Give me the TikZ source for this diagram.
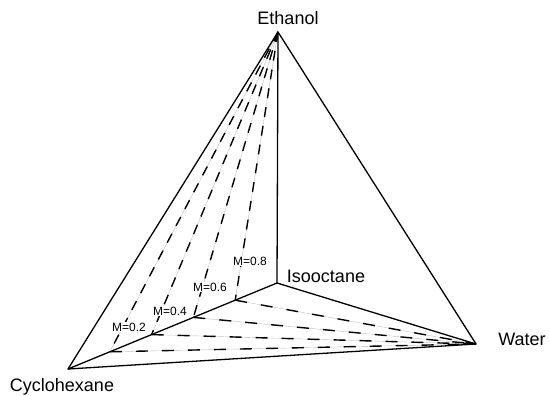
\documentclass[tikz,border=0pt]{standalone}
\usepackage{fontspec}
\setmainfont{Liberation Sans}
\usetikzlibrary{calc}
\begin{document}
\begin{tikzpicture}[x=1pt,y=-1pt,
  edge/.style={line width=1.3pt, line join=round},
  guide/.style={line width=0.4pt, black!25},
  tiee/.style={line width=1.4pt, dash pattern=on 10pt off 9pt},
  tiew/.style={line width=1.4pt, dash pattern=on 12pt off 14pt},
  lbl/.style={font=\fontsize{18}{20}\selectfont, anchor=base, inner sep=0pt},
  mlbl/.style={font=\fontsize{12}{14}\selectfont, anchor=base, fill=white, inner sep=1pt}]
\useasboundingbox (0,0) rectangle (549,396);
\coordinate (E) at (278,32);
\coordinate (C) at (68,369);
\coordinate (I) at (277,283);
\coordinate (W) at (476,344);
\foreach \t/\n in {0.2/a,0.4/b,0.6/c,0.8/d}{
  \coordinate (P\n) at ($(C)!\t!(I)$);
}
% faint guide lines
\foreach \n in {a,b,c,d}{
  \draw[guide] (E) -- (P\n);
  \draw[guide] (W) -- (P\n);
}
% dashed tie lines
\foreach \n in {a,b,c,d}{
  \draw[tiee] (E) -- (P\n);
  \draw[tiew] (P\n) -- (W);
}
% M labels
\node[mlbl] (m2) at (129,331) {M=0.2};
\node[mlbl] (m4) at (170,315) {M=0.4};
\node[mlbl] (m6) at (210,291) {M=0.6};
\node[mlbl] (m8) at (250,265) {M=0.8};
% edges
\draw[edge] (E) -- (C) -- (W) -- cycle;
\draw[edge] (E) -- (I);
\draw[edge] (C) -- (I) -- (W);
% vertex labels
\node[lbl] (eth) at (288,25) {Ethanol};
\node[lbl] (iso) at (326,282) {Isooctane};
\node[lbl] (wat) at (522,345) {Water};
\node[lbl] (cyc) at (62,391) {Cyclohexane};
\end{tikzpicture}
\end{document}
